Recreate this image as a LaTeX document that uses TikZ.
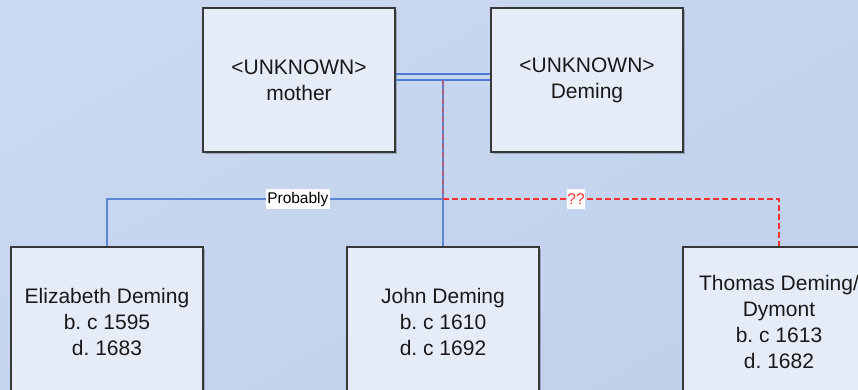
\documentclass[tikz,border=0pt]{standalone}
\usepackage{fontspec}
\setmainfont{Liberation Sans}
\frenchspacing
\usetikzlibrary{shadows}
\definecolor{bgA}{HTML}{CAD8F0}
\definecolor{bgB}{HTML}{C1D1EC}
\definecolor{boxfill}{HTML}{E6ECF7}
\definecolor{boxline}{HTML}{383838}
\definecolor{linkblue}{HTML}{5A86D2}
\definecolor{dblblue}{HTML}{4C7BD4}
\definecolor{linkred}{HTML}{FF3030}
\begin{document}
\begin{tikzpicture}[x=1pt,y=-1pt,
  person/.style={draw=boxline, line width=1.3pt, fill=boxfill,
    minimum width=192pt, minimum height=144pt, inner sep=0pt,
    align=center, text=black!90, font=\fontsize{21}{26}\selectfont,
    drop shadow={shadow xshift=1.6pt, shadow yshift=-1.6pt, opacity=0.22, fill=black}},
  child/.style={person, minimum height=150pt},
  link/.style={draw=linkblue, line width=1.1pt},
  dbl/.style={draw=dblblue, line width=1.4pt},
  reddash/.style={draw=linkred, line width=1.1pt, dash pattern=on 6pt off 3pt},
  tag/.style={fill=white, inner xsep=1.2pt, inner ysep=0pt, minimum height=20pt,
    font=\fontsize{15.5}{18}\selectfont}]
\useasboundingbox (0,0) rectangle (858,389);
\clip (0,0) rectangle (858,389);
\shade[top color=bgA, bottom color=bgB, shading angle=30] (0,0) rectangle (858,389);

\node[person] (mother) at (299,80) {<UNKNOWN>\\mother};
\node[person] (deming) at (587,80) {<UNKNOWN>\\Deming};
\node[child] (eliz) at (107,322) {Elizabeth Deming\\b. c 1595\\d. 1683};
\node[child] (john) at (443,322) {John Deming\\b. c 1610\\d. c 1692};
\node[child] (thomas) at (779,322) {Thomas Deming/\\Dymont\\b. c 1613\\d. 1682};

\draw[dbl] ([yshift=6pt]mother.east) -- ([yshift=6pt]deming.west);
\draw[dbl] (mother.east) -- (deming.west);

\coordinate (m) at (mother.east -| john.north);
\coordinate (j) at (443,199);

\draw[link] (m) -- (john.north);
\draw[reddash, opacity=0.45] (m) -- (j);
\draw[link] (j) -| (eliz.north) node[pos=0.216, tag, text=black] {Probably};
\draw[reddash] (j) -| (thomas.north) node[pos=0.198, tag, text=linkred, inner xsep=0.6pt] {??};
\end{tikzpicture}
\end{document}
